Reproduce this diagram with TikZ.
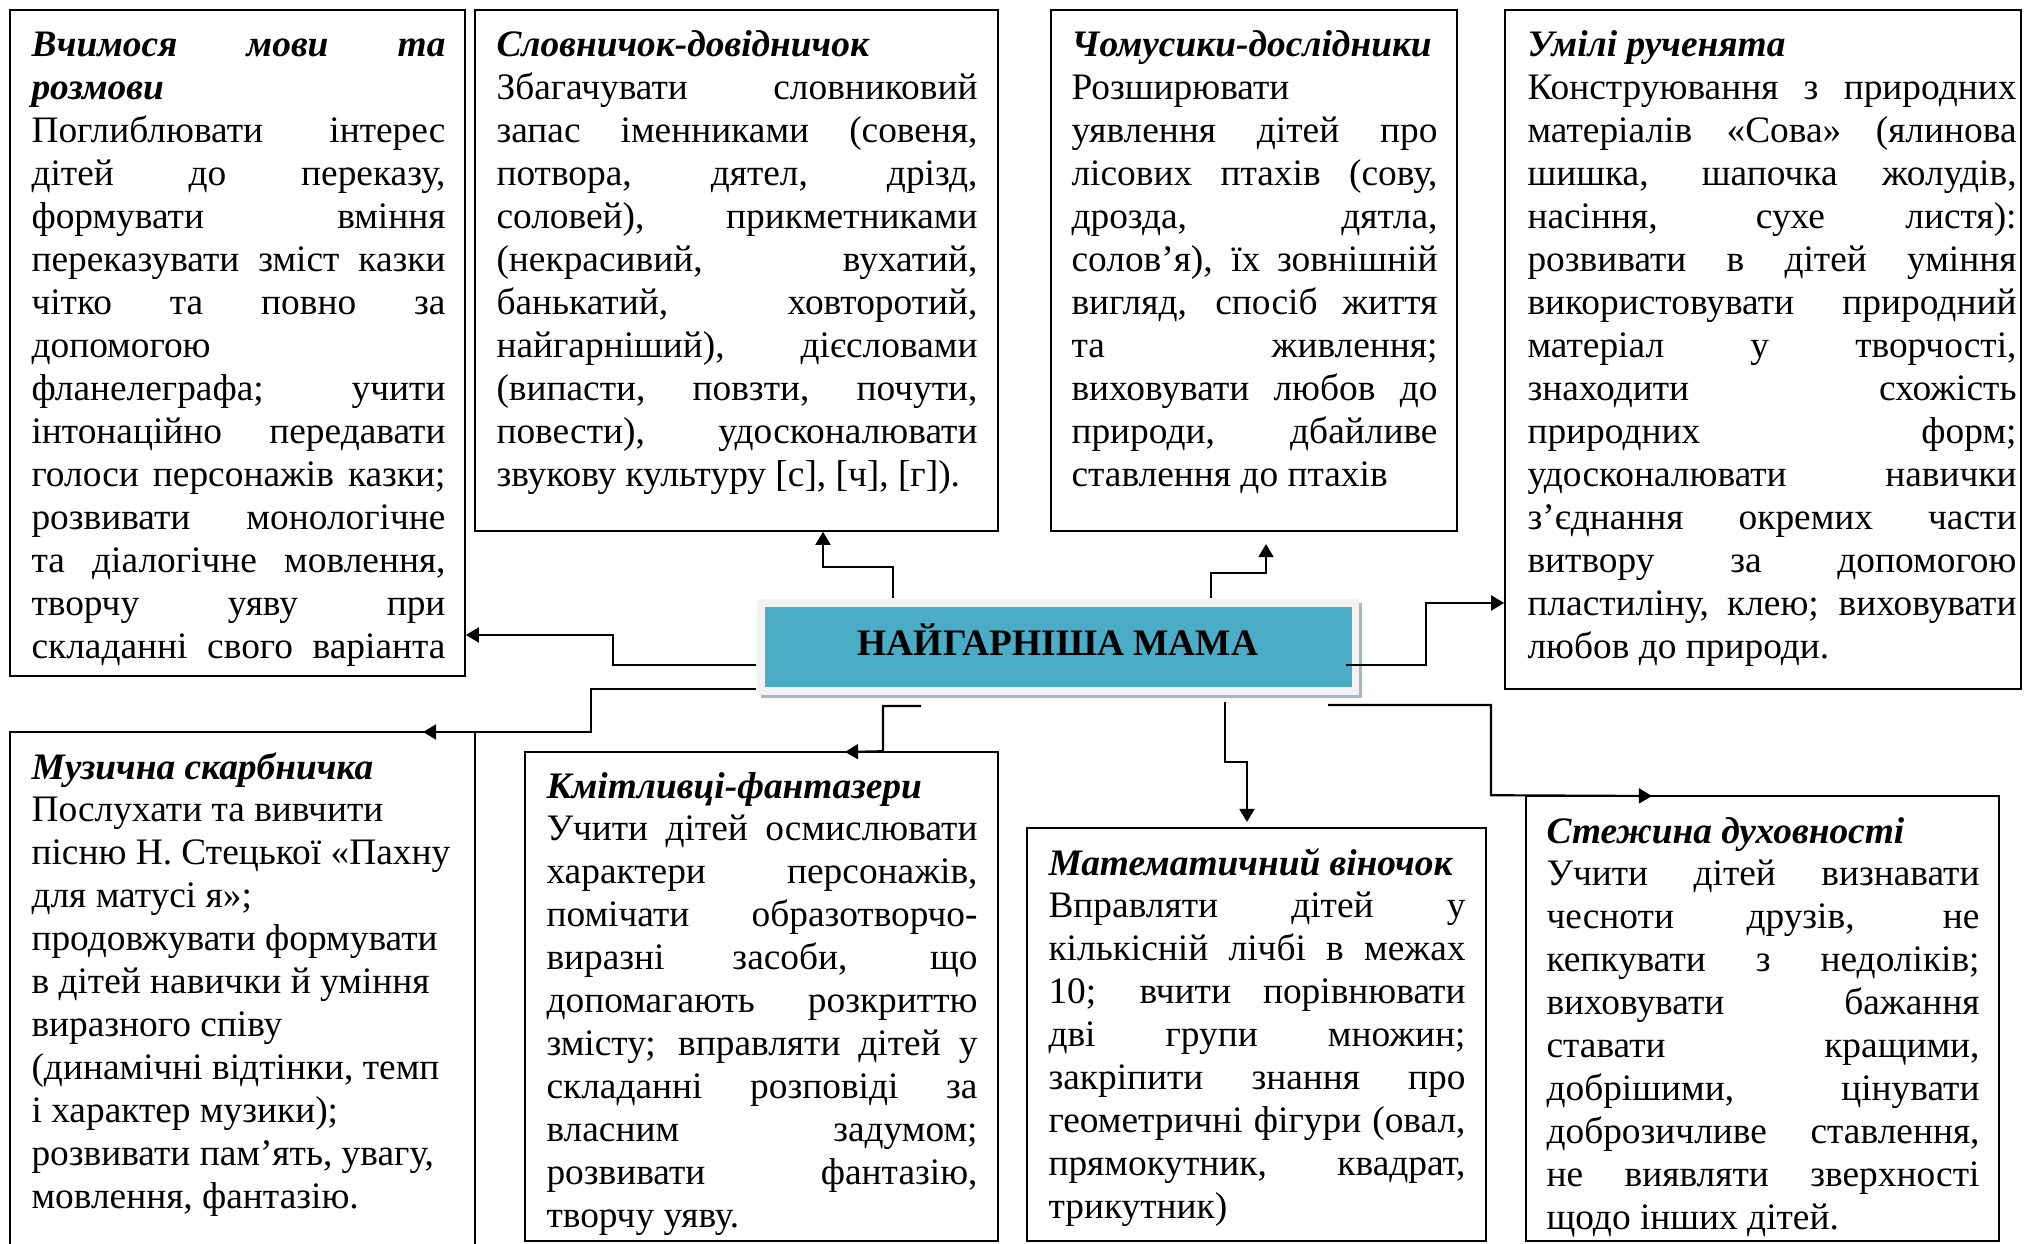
\documentclass[tikz,border=0pt]{standalone}
\usepackage{fontspec}
\setmainfont{Liberation Serif}
\usetikzlibrary{arrows.meta,fit}
\newlength\pxu \setlength\pxu{0.3745pt}
\newcommand\JLine[1]{\hbox to \hsize{#1}}
\newcommand\LLine[1]{\hbox to \hsize{#1\hfil}}
\newcommand\HLine[1]{\hbox to \hsize{\bfseries\itshape #1\hfil}}
\newcommand\HJLine[1]{\hbox to \hsize{\bfseries\itshape #1}}
\newcommand\boxtext[2]{\parbox[t]{#1\pxu}{\fontsize{14}{16.1}\selectfont #2}}
\definecolor{tealfill}{HTML}{4BACC6}
\definecolor{framefill}{HTML}{F2F2F2}
\definecolor{shadowfill}{HTML}{A3BAC6}
\begin{document}
\begin{tikzpicture}[x=0.3745pt, y=-0.3745pt,
  boxn/.style={draw=black, line width=0.6pt, inner sep=0pt},
  conn/.style={line width=0.8pt, -{Triangle[length=4.9pt,width=5.6pt]}},
  txt/.style={anchor=base west, inner sep=0pt}]
\useasboundingbox (0,0) rectangle (2024,1244);
\fill[white] (0,0) rectangle (2024,1244);

% boxes
\node[boxn, fit={(10,10)(465,676)}] (A) {};
\node[boxn, fit={(475,10)(998,531)}] (B) {};
\node[boxn, fit={(1051,10)(1457,531)}] (C) {};
\node[boxn, fit={(1505,10)(2021,689)}] (D) {};
\node[boxn, fit={(10,732)(475,1270)}] (E) {};
\node[boxn, fit={(525,752)(998,1241)}] (F) {};
\node[boxn, fit={(1027,828)(1486,1241)}] (G) {};
\node[boxn, fit={(1526,796)(1999,1241)}] (H) {};

% centre
\fill[shadowfill] (761,603) rectangle (1362,698);
\node[fill=framefill, inner sep=0pt, fit={(757,599)(1359,695)}] (M) {};
\node[fill=tealfill, inner sep=0pt, fit={(765,607)(1352,687)}] (T) {};
\node[font=\fontsize{14}{16}\selectfont\bfseries, inner sep=0pt] (title) at (1058,640) {НАЙГАРНІША МАМА};

% texts
\node[txt] (tA) at (31,57) {\boxtext{414}{%
\HJLine{Вчимося мови та}
\HLine{розмови}
\JLine{Поглиблювати інтерес}
\JLine{дітей до переказу,}
\JLine{формувати вміння}
\JLine{переказувати зміст казки}
\JLine{чітко та повно за}
\LLine{допомогою}
\JLine{фланелеграфа; учити}
\JLine{інтонаційно передавати}
\JLine{голоси персонажів казки;}
\JLine{розвивати монологічне}
\JLine{та діалогічне мовлення,}
\JLine{творчу уяву при}
\JLine{складанні свого варіанта}}};

\node[txt] (tB) at (496,57) {\boxtext{481}{%
\HLine{Словничок-довідничок}
\JLine{Збагачувати словниковий}
\JLine{запас іменниками (совеня,}
\JLine{потвора, дятел, дрізд,}
\JLine{соловей), прикметниками}
\JLine{(некрасивий, вухатий,}
\JLine{банькатий, ховторотий,}
\JLine{найгарніший), дієсловами}
\JLine{(випасти, повзти, почути,}
\JLine{повести), удосконалювати}
\LLine{звукову культуру [с], [ч], [г]).}}};

\node[txt] (tC) at (1071,57) {\boxtext{366}{%
\HLine{Чомусики-дослідники}
\LLine{Розширювати}
\JLine{уявлення дітей про}
\JLine{лісових птахів (сову,}
\JLine{дрозда, дятла,}
\JLine{солов’я), їх зовнішній}
\JLine{вигляд, спосіб життя}
\JLine{та живлення;}
\JLine{виховувати любов до}
\JLine{природи, дбайливе}
\LLine{ставлення до птахів}}};

\node[txt] (tD) at (1527,57) {\boxtext{489}{%
\HLine{Умілі рученята}
\JLine{Конструювання з природних}
\JLine{матеріалів «Сова» (ялинова}
\JLine{шишка, шапочка жолудів,}
\JLine{насіння, сухе листя):}
\JLine{розвивати в дітей уміння}
\JLine{використовувати природний}
\JLine{матеріал у творчості,}
\JLine{знаходити схожість}
\JLine{природних форм;}
\JLine{удосконалювати навички}
\JLine{з’єднання окремих части}
\JLine{витвору за допомогою}
\JLine{пластиліну, клею; виховувати}
\LLine{любов до природи.}}};

\node[txt] (tE) at (31,779) {\boxtext{440}{%
\HLine{Музична скарбничка}
\LLine{Послухати та вивчити}
\LLine{пісню Н. Стецької «Пахну}
\LLine{для матусі я»;}
\LLine{продовжувати формувати}
\LLine{в дітей навички й уміння}
\LLine{виразного співу}
\LLine{(динамічні відтінки, темп}
\LLine{і характер музики);}
\LLine{розвивати пам’ять, увагу,}
\LLine{мовлення, фантазію.}}};

\node[txt] (tF) at (546,798) {\boxtext{431}{%
\HLine{Кмітливці-фантазери}
\JLine{Учити дітей осмислювати}
\JLine{характери персонажів,}
\JLine{помічати образотворчо-}
\JLine{виразні засоби, що}
\JLine{допомагають розкриттю}
\JLine{змісту; вправляти дітей у}
\JLine{складанні розповіді за}
\JLine{власним задумом;}
\JLine{розвивати фантазію,}
\LLine{творчу уяву.}}};

\node[txt] (tG) at (1048,875) {\boxtext{417}{%
\HLine{Математичний віночок}
\JLine{Вправляти дітей у}
\JLine{кількісній лічбі в межах}
\JLine{10; вчити порівнювати}
\JLine{дві групи множин;}
\JLine{закріпити знання про}
\JLine{геометричні фігури (овал,}
\JLine{прямокутник, квадрат,}
\LLine{трикутник)}}};

\node[txt] (tH) at (1546,843) {\boxtext{433}{%
\HLine{Стежина духовності}
\JLine{Учити дітей визнавати}
\JLine{чесноти друзів, не}
\JLine{кепкувати з недоліків;}
\JLine{виховувати бажання}
\JLine{ставати кращими,}
\JLine{добрішими, цінувати}
\JLine{доброзичливе ставлення,}
\JLine{не виявляти зверхності}
\LLine{щодо інших дітей.}}};

% connectors
\coordinate (a1) at (613,665); \coordinate (a2) at (613,635);
\draw[conn] (a1 -| M.west) -- (a1) -- (a2) -- (a2 -| A.east);

\coordinate (e1) at (591,689); \coordinate (e2) at (591,732); \coordinate (e3) at (423,732);
\draw[conn] (e1 -| M.west) -- (e1) -- (e2) -- (e3);

\coordinate (b1) at (893,567); \coordinate (b2) at (823,567);
\draw[conn] (b1 |- M.north) -- (b1) -- (b2) -- (b2 |- B.south);

\coordinate (c1) at (1211,573); \coordinate (c2) at (1266,573); \coordinate (c3) at (1266,544);
\draw[conn] (c1 |- M.north) -- (c1) -- (c2) -- (c3);

\coordinate (d0) at (1346,665); \coordinate (d1) at (1426,665); \coordinate (d2) at (1426,603);
\draw[conn] (d0) -- (d1) -- (d2) -- (d2 -| D.west);

\coordinate (f0) at (921,706); \coordinate (f1) at (883,706); \coordinate (f3) at (845,752);
\draw[conn] (f0) -- (f1) -- (f1 |- F.north) -- (f3);

\coordinate (g0) at (1225,702); \coordinate (g1) at (1225,762); \coordinate (g2) at (1247,762); \coordinate (g3) at (1247,822);
\draw[conn] (g0) -- (g1) -- (g2) -- (g3);

\coordinate (h0) at (1328,705); \coordinate (h1) at (1491,705); \coordinate (h3) at (1652,796);
\draw[conn] (h0) -- (h1) -- (h1 |- H.north) -- (h3);
\end{tikzpicture}
\end{document}
